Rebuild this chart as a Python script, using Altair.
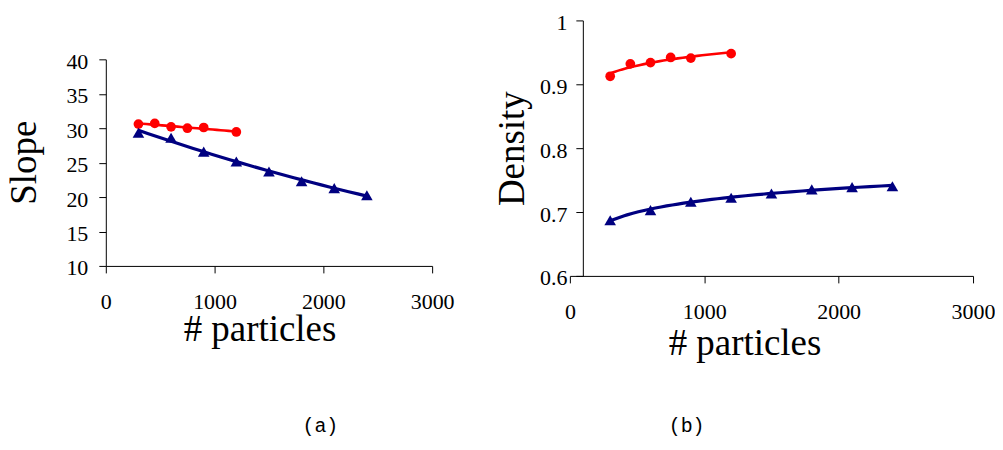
import altair as alt
import pandas as pd

# ---- data ----
particles_a_red = [300, 450, 600, 750, 900, 1200]
slope_red = [30.6, 30.7, 30.2, 30.0, 30.1, 29.45]
particles_a_blue = [300, 600, 900, 1200, 1500, 1800, 2100, 2400]
slope_blue = [29.35, 28.6, 26.6, 25.15, 23.7, 22.3, 21.3, 20.25]

particles_b_red = [300, 450, 600, 750, 900, 1200]
density_red = [0.9125, 0.932, 0.934, 0.942, 0.941, 0.948]
particles_b_blue = [300, 600, 900, 1200, 1500, 1800, 2100, 2400]
density_blue = [0.687, 0.703, 0.716, 0.7225, 0.729, 0.7355, 0.739, 0.7405]

x_ticks = [0, 1000, 2000, 3000]
slope_ticks = [10, 15, 20, 25, 30, 35, 40]
density_ticks = [0.6, 0.7, 0.8, 0.9, 1.0]

RED = "#ff0000"
BLUE = "#000080"
SERIF = "Liberation Serif"

AX = dict(
    grid=False, domainColor="black", domainWidth=1, tickColor="black",
    tickWidth=1, tickSize=7, labelFont=SERIF, labelFontSize=22,
    labelColor="black", labelFlush=False, labelOverlap=False,
    titleFont=SERIF, titleFontSize=37,
    titleFontWeight="normal", titleColor="black", titleAlign="center",
    titleBaseline="alphabetic",
)


def frame(x, y):
    return pd.DataFrame({"n": x, "v": y})


def panel(red, blue, xenc, yenc, method, caption, cap_x, cap_y, width, height):
    layers = []
    for d, color, shape, size, sw in [
        (red, RED, "circle", 95, 2.6),
        (blue, BLUE, "triangle-up", 135, 3.2),
    ]:
        base = alt.Chart(d)
        line = (
            base.transform_regression("n", "v", method=method)
            .mark_line(color=color, strokeWidth=sw)
            .encode(x=xenc, y=yenc)
        )
        pts = base.mark_point(
            shape=shape, filled=True, size=size, color=color, opacity=1
        ).encode(x=xenc, y=yenc)
        layers += [line, pts]
    cap = (
        alt.Chart(pd.DataFrame({"t": [caption]}))
        .mark_text(font="Courier New, Liberation Mono, monospace", fontSize=20,
                   color="black", align="center", baseline="alphabetic")
        .encode(x=alt.value(cap_x), y=alt.value(cap_y), text="t:N")
    )
    return alt.layer(*layers, cap).properties(width=width, height=height)


xa = alt.X(
    "n:Q",
    scale=alt.Scale(domain=[0, 3000], nice=False),
    axis=alt.Axis(values=x_ticks, format="d", offset=-10, labelPadding=19,
                  title="# particles", titleX=154, titleY=75, titleAngle=0, **AX),
)
ya = alt.Y(
    "v:Q",
    scale=alt.Scale(domain=[10, 40], range=[246, 39], nice=False, zero=False),
    axis=alt.Axis(values=slope_ticks, labelPadding=11, labelOffset=2,
                  title="Slope", titleX=-70.5, titleY=142, titleAngle=270, **AX),
)
xb = alt.X(
    "n:Q",
    scale=alt.Scale(domain=[0, 3000], nice=False),
    axis=alt.Axis(values=x_ticks, format="d", labelPadding=19,
                  title="# particles", titleX=175, titleY=79, titleAngle=0, **AX),
)
yb = alt.Y(
    "v:Q",
    scale=alt.Scale(domain=[0.6, 1.0], nice=False, zero=False),
    axis=alt.Axis(values=density_ticks, format=".1~f", offset=-13,
                  labelPadding=9, labelOffset=2,
                  title="Density", titleX=-59.5, titleY=128, titleAngle=270, **AX),
)

panel_a = panel(frame(particles_a_red, slope_red), frame(particles_a_blue, slope_blue),
                xa, ya, "exp", "(a)", 215, 412, 327, 256)
panel_b = panel(frame(particles_b_red, density_red), frame(particles_b_blue, density_blue),
                xb, yb, "log", "(b)", 117, 412, 404, 256)

chart = (
    alt.hconcat(panel_a, panel_b, spacing=138, bounds="flush")
    .properties(padding={"left": -3, "top": 3, "right": 0, "bottom": 8})
    .configure_view(stroke=None)
    .configure_axis(**AX)
)

chart.save("out.html", embed_options={"renderer": "svg", "actions": False})
